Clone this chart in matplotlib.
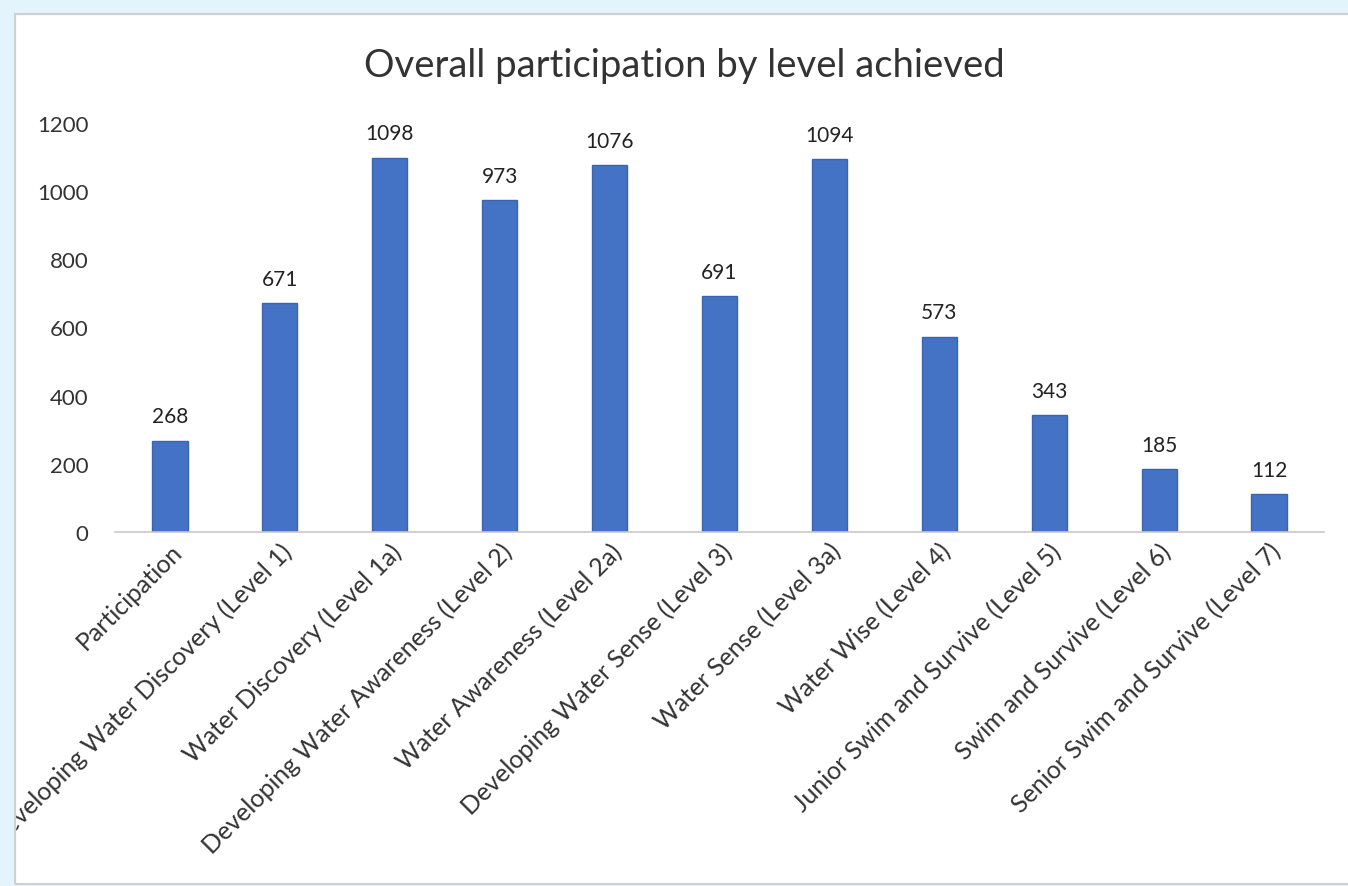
import matplotlib
matplotlib.use("Agg")
import matplotlib.pyplot as plt
from matplotlib.patches import Rectangle

categories = ["Participation", "Developing Water Discovery (Level 1)", "Water Discovery (Level 1a)",
              "Developing Water Awareness (Level 2)", "Water Awareness (Level 2a)",
              "Developing Water Sense (Level 3)", "Water Sense (Level 3a)", "Water Wise (Level 4)",
              "Junior Swim and Survive (Level 5)", "Swim and Survive (Level 6)",
              "Senior Swim and Survive (Level 7)"]
values = [268, 671, 1098, 973, 1076, 691, 1094, 573, 343, 185, 112]
yticks = [0, 200, 400, 600, 800, 1000, 1200]

plt.rcParams['font.family'] = ['Lato', 'DejaVu Sans']
W, H = 1348, 887
fig = plt.figure(figsize=(W/100, H/100), dpi=100)
fig.patch.set_facecolor('white')

ax = fig.add_axes([115/W, 1-533/H, (1324-115)/W, (533-124)/H])
x = list(range(len(categories)))
ax.bar(x, values, width=0.32, color='#4472C4', edgecolor='#3A64AE', linewidth=1)
for xi, v in zip(x, values):
    ax.text(xi, v + 42, str(v), ha='center', va='bottom', fontsize=15, color='#222222')
ax.set_xlim(-0.5, len(categories) - 0.5)
ax.set_ylim(0, 1200)
ax.set_yticks(yticks)
ax.set_yticklabels([str(t) for t in yticks], fontsize=16, color='#333333')
ax.set_xticks(x)
ax.set_xticklabels(categories, rotation=45, ha='right', rotation_mode='anchor',
                   fontsize=18, color='#333333')
ax.tick_params(axis='both', length=0)
ax.tick_params(axis='y', pad=19)
ax.tick_params(axis='x', pad=5)
for s in ['top', 'right', 'left']:
    ax.spines[s].set_visible(False)
ax.spines['bottom'].set_color('#C8C8C8')
ax.spines['bottom'].set_linewidth(1.2)

fig.text(684/W, 1-66/H, "Overall participation by level achieved", ha='center', va='center',
         fontsize=27.5, color='#333333')

# outer light-blue frame and panel border
blue = '#E3F4FD'
fig.patches.append(Rectangle((0, 0), 1, 2/H, transform=fig.transFigure, color=blue, zorder=20))
fig.patches.append(Rectangle((0, 1-15/H), 1, 15/H, transform=fig.transFigure, color=blue, zorder=20))
fig.patches.append(Rectangle((0, 0), 15/W, 1, transform=fig.transFigure, color=blue, zorder=20))
fig.patches.append(Rectangle((15/W, 2/H), 1, 1-17/H, transform=fig.transFigure, fill=False,
                             edgecolor='#D0D0D0', linewidth=1.5, zorder=21))

fig.savefig("out.png", dpi=100)
